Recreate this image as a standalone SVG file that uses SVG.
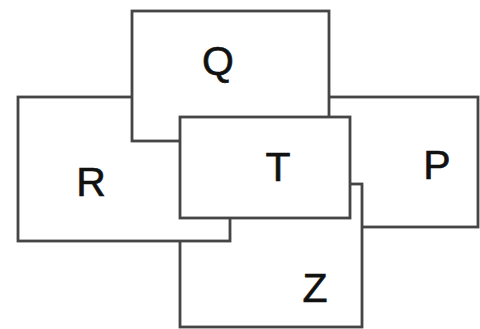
<svg xmlns="http://www.w3.org/2000/svg" width="480" height="329" viewBox="0 0 480 329">
<style>
.box{fill:#fff;stroke:#454545;stroke-width:2.8}
.lbl{font-family:"Liberation Sans",Arial,sans-serif;font-size:41px;fill:#111;stroke:#111;stroke-width:0.6;text-anchor:middle}
</style>
<rect width="480" height="329" fill="#fff"/>
<g id="P"><rect class="box" x="300" y="97" width="178" height="130"/><text class="lbl" x="437" y="179">P</text></g>
<g id="Z"><rect class="box" x="180" y="184" width="182" height="143"/><text class="lbl" x="315" y="302">Z</text></g>
<g id="R"><rect class="box" x="18" y="97" width="212" height="144"/><text class="lbl" x="91" y="196">R</text></g>
<g id="Q"><rect class="box" x="132" y="11" width="197" height="130"/><text class="lbl" x="218" y="75">Q</text></g>
<g id="T"><rect class="box" x="180" y="117" width="170" height="101"/><text class="lbl" x="278" y="181">T</text></g>
<g id="connectors"></g>
</svg>
